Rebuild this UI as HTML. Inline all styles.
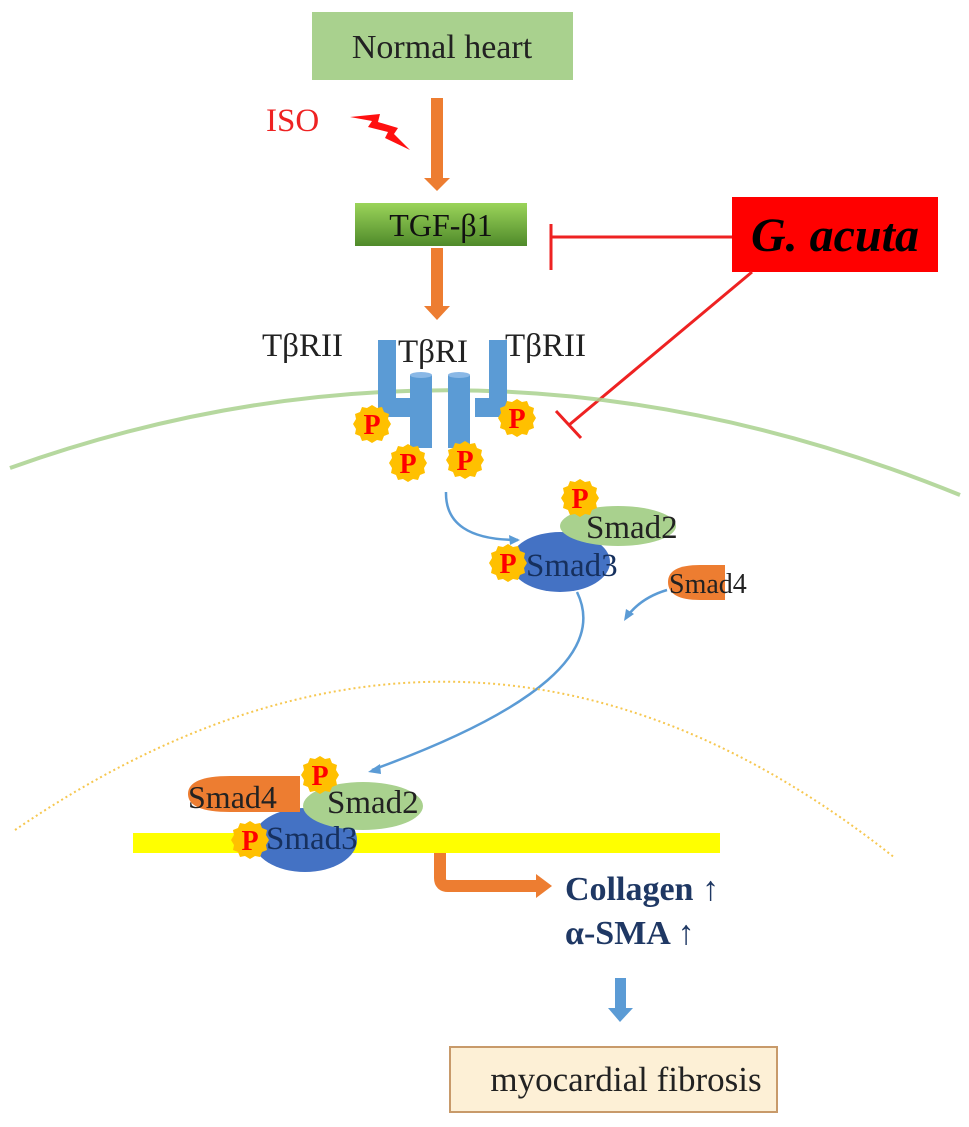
<!DOCTYPE html>
<html><head><meta charset="utf-8"><style>
html,body{margin:0;padding:0;background:#fff;}
svg{display:block;}
text{font-family:"Liberation Serif",serif;}
</style></head><body>
<svg width="969" height="1127" viewBox="0 0 969 1127" xmlns="http://www.w3.org/2000/svg">
<defs>
<linearGradient id="tg" x1="0" y1="0" x2="0" y2="1">
<stop offset="0" stop-color="#9bd45a"/><stop offset="1" stop-color="#4f8a2a"/>
</linearGradient>
<g id="P">
<polygon points="0,-19 5,-16 10,-17 12,-12 17,-10 16,-5 19,0 16,5 17,10 12,12 10,17 5,16 0,19 -5,16 -10,17 -12,12 -17,10 -16,5 -19,0 -16,-5 -17,-10 -12,-12 -10,-17 -5,-16" fill="#ffc000"/>
<text x="0" y="10" text-anchor="middle" font-size="28" font-weight="bold" fill="#ff0000">P</text>
</g>
</defs>

<rect x="312" y="12" width="261" height="68" fill="#a9d18e"/>
<text x="442" y="58" text-anchor="middle" font-size="34" fill="#222">Normal heart</text>

<text x="266" y="131" font-size="33" fill="#ee2222">ISO</text>
<polygon points="350,117 380,114 378,122 398,128 394,134 410,150 385,138 388,132 368,127 372,121" fill="#ff1010"/>

<rect x="431" y="98" width="12" height="82" fill="#ed7d31"/>
<polygon points="424,178 450,178 437,191" fill="#ed7d31"/>

<rect x="355" y="203" width="172" height="43" fill="url(#tg)"/>
<text x="441" y="236" text-anchor="middle" font-size="32" fill="#111">TGF-β1</text>

<rect x="732" y="197" width="206" height="75" fill="#ff0000"/>
<text x="835" y="251" text-anchor="middle" font-size="48" font-weight="bold" font-style="italic" fill="#000">G. acuta</text>
<line x1="732" y1="237" x2="551" y2="237" stroke="#ee2222" stroke-width="3"/>
<line x1="551" y1="224" x2="551" y2="270" stroke="#ee2222" stroke-width="3"/>
<line x1="752" y1="272" x2="569" y2="425" stroke="#ee2222" stroke-width="3"/>
<line x1="556" y1="411" x2="581" y2="438" stroke="#ee2222" stroke-width="3"/>

<rect x="431" y="248" width="12" height="60" fill="#ed7d31"/>
<polygon points="424,306 450,306 437,320" fill="#ed7d31"/>

<path d="M10,468 Q480,300 960,495" fill="none" stroke="#a9d18e" stroke-width="4" opacity="0.85"/>

<text x="262" y="356" font-size="33" fill="#222">TβRII</text>
<text x="398" y="362" font-size="33" fill="#222">TβRI</text>
<text x="505" y="356" font-size="33" fill="#222">TβRII</text>
<path d="M378,340 H396 V398 H410 V417 H378 Z" fill="#5b9bd5"/>
<path d="M507,340 H489 V398 H475 V417 H507 Z" fill="#5b9bd5"/>
<rect x="410" y="375" width="22" height="73" fill="#5b9bd5"/>
<ellipse cx="421" cy="375" rx="11" ry="3" fill="#8ab8e6"/>
<rect x="448" y="375" width="22" height="73" fill="#5b9bd5"/>
<ellipse cx="459" cy="375" rx="11" ry="3" fill="#8ab8e6"/>
<use href="#P" x="372" y="424"/>
<use href="#P" x="408" y="463"/>
<use href="#P" x="465" y="460"/>
<use href="#P" x="517" y="418"/>

<path d="M446,492 Q445,540 518,540" fill="none" stroke="#5b9bd5" stroke-width="2.5"/>
<polygon points="520,540 509,535 510,545" fill="#5b9bd5"/>

<ellipse cx="560" cy="562" rx="50" ry="30" fill="#4472c4"/>
<ellipse cx="618" cy="526" rx="58" ry="20" fill="#a9d18e"/>
<text x="586" y="538" font-size="33" fill="#222">Smad2</text>
<text x="526" y="576" font-size="33" fill="#16305e">Smad3</text>
<use href="#P" x="580" y="498"/>
<use href="#P" x="508" y="563"/>
<path d="M725,565 V600 H700 Q668,600 668,582 Q668,565 700,565 Z" fill="#ed7d31"/>
<text x="669" y="593" font-size="28" fill="#222">Smad4</text>

<path d="M577,592 Q620,680 372,770" fill="none" stroke="#5b9bd5" stroke-width="2.5"/>
<polygon points="368,772 380,764 381,774" fill="#5b9bd5"/>
<path d="M667,590 Q640,598 626,618" fill="none" stroke="#5b9bd5" stroke-width="2.5"/>
<polygon points="624,621 626,609 634,614" fill="#5b9bd5"/>

<path d="M15,830 Q470,520 895,858" fill="none" stroke="#f6c750" stroke-width="2" stroke-dasharray="2,3"/>

<rect x="133" y="833" width="587" height="20" fill="#ffff00"/>
<ellipse cx="305" cy="840" rx="52" ry="32" fill="#4472c4"/>
<path d="M300,776 V812 H230 Q188,812 188,794 Q188,776 230,776 Z" fill="#ed7d31"/>
<ellipse cx="363" cy="806" rx="60" ry="24" fill="#a9d18e"/>
<text x="188" y="808" font-size="32" fill="#222">Smad4</text>
<text x="327" y="813" font-size="33" fill="#222">Smad2</text>
<text x="266" y="849" font-size="33" fill="#16305e">Smad3</text>
<use href="#P" x="320" y="775"/>
<use href="#P" x="250" y="840"/>

<path d="M440,853 V878 Q440,886 448,886 H538" fill="none" stroke="#ed7d31" stroke-width="12"/>
<polygon points="536,874 552,886 536,898" fill="#ed7d31"/>

<text x="565" y="900" font-size="34" font-weight="bold" fill="#1f3864">Collagen <tspan font-weight="normal">↑</tspan></text>
<text x="565" y="944" font-size="34" font-weight="bold" fill="#1f3864">α-SMA <tspan font-weight="normal">↑</tspan></text>

<rect x="615" y="978" width="11" height="32" fill="#5b9bd5"/>
<polygon points="608,1008 633,1008 620,1022" fill="#5b9bd5"/>

<rect x="450" y="1047" width="327" height="65" fill="#fdf0d6" stroke="#c89a6a" stroke-width="2"/>
<text x="626" y="1091" text-anchor="middle" font-size="35" fill="#222">myocardial fibrosis</text>
</svg>
</body></html>
